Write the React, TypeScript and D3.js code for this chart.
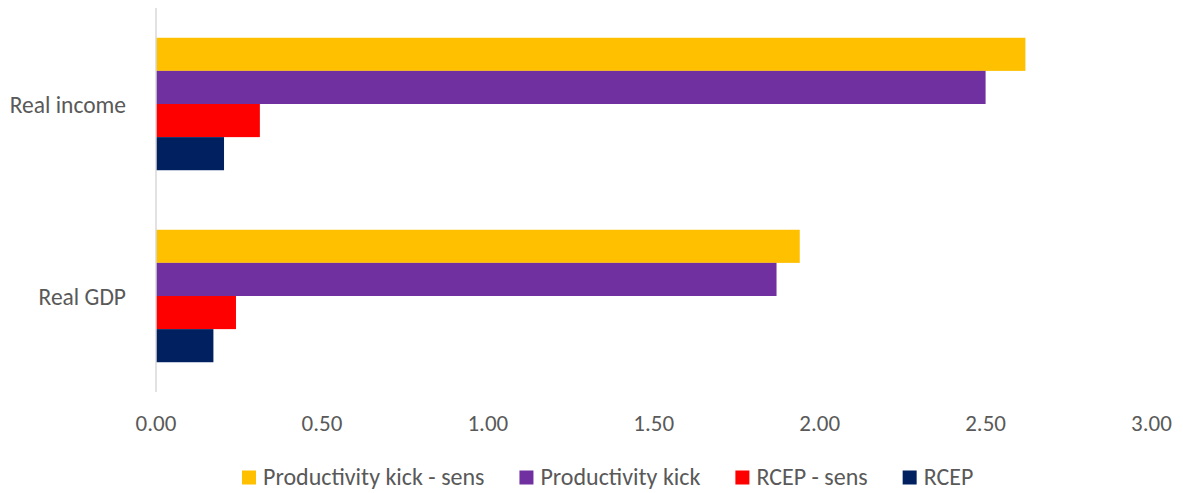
import React, { useEffect, useRef } from "react";
import * as d3 from "d3";

const categories = ["Real income", "Real GDP"];
const seriesNames = ["Productivity kick - sens", "Productivity kick", "RCEP - sens", "RCEP"];
const seriesColors = ["#FFC000", "#7030A0", "#FF0000", "#002060"];
// values[series][category]
const prodKickSens = [2.62, 1.94];
const prodKick = [2.5, 1.87];
const rcepSens = [0.313, 0.241];
const rcep = [0.205, 0.173];
const seriesValues = [prodKickSens, prodKick, rcepSens, rcep];
const xTicks = [0, 0.5, 1, 1.5, 2, 2.5, 3];

const W = 1183;
const H = 493;
const FONT = "Carlito, Calibri, Lato, 'Open Sans', sans-serif";

export default function App() {
  const ref = useRef<SVGSVGElement | null>(null);

  useEffect(() => {
    const svg = d3.select(ref.current);
    svg.selectAll("*").remove();

    const x = d3.scaleLinear().domain([0, 3]).range([156, 1151.5]);
    const y0 = d3
      .scaleBand<string>()
      .domain(categories)
      .range([8, 392])
      .paddingInner(0.31)
      .paddingOuter(0.155);
    const y1 = d3
      .scaleBand<string>()
      .domain(seriesNames)
      .range([0, y0.bandwidth()]);

    // bars
    const g = svg.append("g");
    seriesNames.forEach((s, si) => {
      g.selectAll(null)
        .data(categories)
        .enter()
        .append("rect")
        .attr("x", x(0))
        .attr("y", (c) => (y0(c) as number) + (y1(s) as number))
        .attr("width", (c, ci) => x(seriesValues[si][ci]) - x(0))
        .attr("height", y1.bandwidth())
        .attr("fill", seriesColors[si]);
    });

    // vertical axis line
    svg
      .append("line")
      .attr("x1", x(0))
      .attr("x2", x(0))
      .attr("y1", 8)
      .attr("y2", 392)
      .attr("stroke", "#D9D9D9")
      .attr("stroke-width", 1.5);

    // x tick labels
    svg
      .append("g")
      .selectAll("text")
      .data(xTicks)
      .enter()
      .append("text")
      .attr("x", (d) => x(d))
      .attr("y", 431)
      .attr("text-anchor", "middle")
      .attr("font-family", FONT)
      .attr("font-size", 23)
      .attr("fill", "#595959")
      .text((d) => d3.format(".2f")(d));

    // category labels
    svg
      .append("g")
      .selectAll("text")
      .data(categories)
      .enter()
      .append("text")
      .attr("x", 126)
      .attr("y", (c) => (y0(c) as number) + y0.bandwidth() / 2 + 8.5)
      .attr("text-anchor", "end")
      .attr("font-family", FONT)
      .attr("font-size", 23.5)
      .attr("fill", "#595959")
      .text((c) => c);

    // legend
    const lg = svg.append("g");
    let cx = 242;
    seriesNames.forEach((s, i) => {
      lg.append("rect")
        .attr("x", cx)
        .attr("y", 470.5)
        .attr("width", 14)
        .attr("height", 14)
        .attr("fill", seriesColors[i]);
      const t = lg
        .append("text")
        .attr("x", cx + 21)
        .attr("y", 484.5)
        .attr("font-family", FONT)
        .attr("font-size", 24)
        .attr("fill", "#595959")
        .text(s);
      const w = (t.node() as SVGTextElement).getComputedTextLength();
      cx = cx + 21 + w + 35;
    });
  }, []);

  return (
    <svg
      ref={ref}
      width={W}
      height={H}
      style={{ position: "absolute", left: 0, top: 0, background: "#fff" }}
    />
  );
}
